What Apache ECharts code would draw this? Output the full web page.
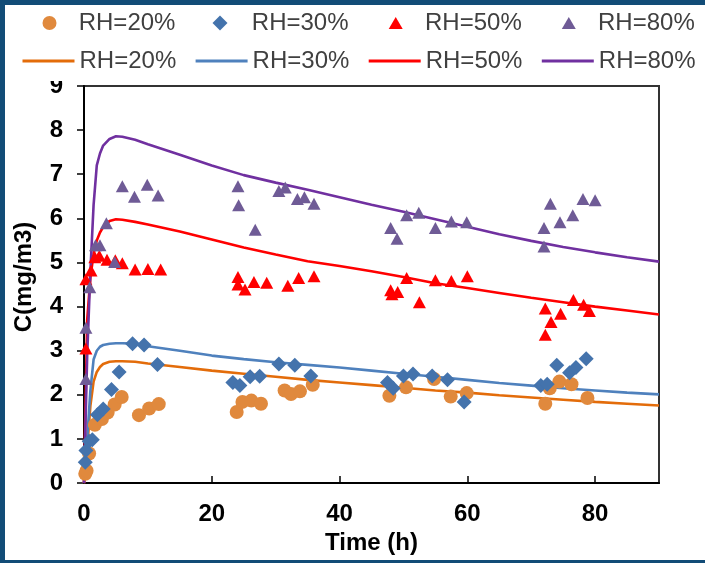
<!DOCTYPE html>
<html><head><meta charset="utf-8">
<script src="https://cdn.jsdelivr.net/npm/echarts@6/dist/echarts.min.js"></script>
<style>
html,body{margin:0;padding:0;width:705px;height:563px;background:#124c77;overflow:hidden;}
#c{position:absolute;left:5px;top:5px;width:700px;height:555px;background:#fff;}
</style></head><body><div id="c"></div>
<script>
// ---- data ----
const names = ['RH=20%', 'RH=30%', 'RH=50%', 'RH=80%'];
const xTicks = [0, 20, 40, 60, 80];
const modelTime = [0,0.5,1,1.5,2,2.5,3,4,5,6,8,10,15,20,25,30,35,40,45,50,55,60,65,70,75,80,85,90];
const model20 = [0,0.8,1.75,2.3,2.52,2.63,2.7,2.75,2.76,2.76,2.75,2.71,2.63,2.55,2.48,2.41,2.34,2.28,2.22,2.16,2.10,2.05,1.99,1.94,1.89,1.84,1.80,1.76];
const model30 = [0,1.0,2.1,2.8,3.0,3.09,3.13,3.16,3.17,3.17,3.16,3.10,3.00,2.89,2.81,2.74,2.68,2.62,2.55,2.48,2.41,2.34,2.27,2.21,2.15,2.10,2.05,2.01];
const model50 = [0,3.7,4.65,5.2,5.5,5.68,5.8,5.94,5.98,5.97,5.92,5.86,5.70,5.52,5.34,5.18,5.03,4.92,4.80,4.67,4.53,4.42,4.31,4.20,4.10,4.00,3.91,3.82];
const model80 = [0,2.9,4.8,6.3,7.2,7.47,7.65,7.8,7.86,7.85,7.78,7.68,7.44,7.20,6.98,6.81,6.65,6.48,6.31,6.15,5.98,5.81,5.64,5.49,5.35,5.23,5.12,5.02];
const meas20 = [[0.2,0.21],[0.4,0.28],[0.8,0.67],[1.7,1.32],[2.8,1.45],[3.7,1.6],[4.8,1.78],[5.9,1.95],[8.6,1.54],[10.2,1.69],[11.7,1.79],[23.9,1.61],[24.8,1.84],[26.2,1.87],[27.7,1.80],[31.4,2.10],[32.4,2.02],[33.8,2.08],[35.8,2.23],[47.8,1.98],[50.4,2.17],[54.8,2.36],[57.4,1.96],[59.9,2.04],[72.2,1.80],[72.9,2.15],[74.4,2.30],[76.3,2.24],[78.8,1.93]];
const meas30 = [[0.2,0.47],[0.3,0.74],[0.8,0.95],[1.3,0.98],[2.1,1.55],[3.0,1.68],[4.3,2.12],[5.5,2.52],[7.6,3.16],[9.4,3.13],[11.5,2.69],[23.3,2.28],[24.4,2.21],[26.0,2.41],[27.5,2.42],[30.5,2.70],[33.0,2.67],[35.5,2.43],[47.5,2.28],[48.4,2.15],[50.0,2.43],[51.5,2.47],[54.5,2.43],[56.9,2.34],[59.5,1.84],[71.5,2.21],[72.5,2.24],[74.0,2.67],[76.0,2.50],[77.0,2.62],[78.6,2.82]];
const meas50 = [[0.3,3.05],[0.3,4.62],[1.1,4.82],[1.7,5.12],[2.4,5.15],[3.6,5.06],[4.9,5.05],[6.0,4.98],[8.0,4.84],[10.0,4.85],[12.0,4.84],[24.1,4.67],[24.1,4.50],[25.2,4.39],[26.6,4.56],[28.6,4.54],[31.9,4.47],[33.6,4.65],[36.0,4.69],[48.0,4.37],[48.2,4.28],[49.1,4.33],[50.5,4.65],[52.5,4.10],[55.0,4.60],[57.5,4.58],[60.0,4.69],[72.2,3.96],[73.1,3.65],[72.2,3.36],[74.6,3.84],[76.6,4.15],[78.2,4.04],[79.1,3.90]];
const meas80 = [[0.3,2.36],[0.3,3.52],[0.9,4.44],[1.8,5.39],[2.5,5.39],[3.5,5.89],[4.8,5.01],[6.0,6.73],[7.9,6.49],[9.9,6.76],[11.6,6.52],[24.1,6.73],[24.2,6.30],[26.8,5.74],[30.5,6.62],[31.5,6.70],[33.4,6.44],[34.5,6.48],[36.0,6.33],[48.0,5.78],[49.0,5.54],[50.5,6.07],[52.4,6.13],[55.0,5.78],[57.5,5.93],[59.9,5.91],[72.0,5.78],[72.0,5.36],[73.0,6.33],[74.5,5.91],[76.5,6.07],[78.1,6.44],[80.0,6.41]];

// ---- styling ----
const FONT = "'Liberation Sans', Arial, sans-serif";
const markColors = ['#E0893D', '#4473AC', '#FF0000', '#6F5B96'];
const lineColors = ['#E36C0A', '#4F81BD', '#FF0000', '#7030A0'];
const symbols = ['circle', 'diamond', 'triangle', 'triangle'];
const symSizes = [14, [15, 15], [13, 12], [13, 12]];
const legendSym = [[14, 14], [15, 15], [14, 12], [14, 12]];
const measAll = [meas20, meas30, meas50, meas80];
const modelAll = [model20, model30, model50, model80];
const markerCenters = [44.5, 215, 390.7, 563.8];   // legend row 1 marker centres (chart px)
const lineLefts = [17.5, 190.6, 363.7, 536.8];     // legend row 2 line starts (chart px)
const textStarts = [73.7, 246.8, 420, 593];

const series = [];
modelAll.forEach((m, i) => {
  series.push({
    name: names[i] + ' model', type: 'line', symbol: 'none', showSymbol: false, z: 2,
    data: modelTime.map((t, k) => [t, m[k]]),
    lineStyle: { color: lineColors[i], width: 2.6 },
    itemStyle: { color: lineColors[i] }
  });
});
measAll.forEach((d, i) => {
  series.push({
    name: names[i] + ' data', type: 'scatter', symbol: symbols[i], symbolSize: symSizes[i], z: 3 + i,
    data: d, itemStyle: { color: markColors[i], opacity: 1 }
  });
});

const legends = [];
names.forEach((n, i) => {
  const w = legendSym[i][0], h = legendSym[i][1];
  const left = markerCenters[i] - w / 2;
  const gap = textStarts[i] - (left + w) - 5;
  legends.push({ data: [{ name: n + ' data', icon: symbols[i] }], left: left, top: 6, itemWidth: w, itemHeight: h, itemGap: 0, padding: 0, selectedMode: false, z: 100,
    formatter: s => s.split(' ')[0], textStyle: { fontSize: 24, color: '#404040', fontFamily: FONT, padding: [0, 0, 0, gap] } });
  legends.push({ data: [{ name: n + ' model', icon: 'rect' }], left: lineLefts[i], top: 44, itemWidth: 52, itemHeight: 3, itemGap: 0, padding: 0, selectedMode: false, z: 100,
    formatter: s => s.split(' ')[0], textStyle: { fontSize: 24, color: '#404040', fontFamily: FONT } });
});

const chart = echarts.init(document.getElementById('c'));
chart.setOption({
  animation: false,
  backgroundColor: '#ffffff',
  legend: legends,
  grid: { left: 79, top: 81, width: 575, height: 405, show: true, borderColor: '#333', borderWidth: 2, backgroundColor: 'transparent' },
  xAxis: {
    type: 'value', min: 0, max: 90, interval: 20,
    name: 'Time (h)', nameLocation: 'middle', nameGap: 40,
    nameTextStyle: { fontSize: 24, fontWeight: 'bold', color: '#000', fontFamily: FONT },
    axisLine: { show: true, onZero: false, lineStyle: { color: '#000', width: 2 } },
    axisTick: { show: true, inside: true, length: 7, lineStyle: { color: '#000', width: 1.5 }, customValues: xTicks },
    axisLabel: { fontSize: 24, fontWeight: 'bold', color: '#000', fontFamily: FONT, margin: 19, customValues: xTicks },
    splitLine: { show: false }
  },
  yAxis: {
    type: 'value', min: 0, max: 9, interval: 1,
    axisLine: { show: true, onZero: false, lineStyle: { color: '#000', width: 2 } },
    axisTick: { show: true, inside: false, length: 7, lineStyle: { color: '#000', width: 1.5 } },
    axisLabel: { fontSize: 24, fontWeight: 'bold', color: '#000', fontFamily: FONT, margin: 21 },
    splitLine: { show: false }
  },
  graphic: [
    { type: 'rect', left: 0, top: 0, shape: { width: 700, height: 76 }, style: { fill: '#fff' }, z: 50, silent: true },
    { type: 'text', x: 19, y: 272, rotation: Math.PI / 2, z: 60,
      style: { text: 'C(mg/m3)', font: "bold 24px 'Liberation Sans', Arial, sans-serif", fill: '#000', align: 'center', verticalAlign: 'middle' } }
  ],
  series: series
});
</script></body></html>
